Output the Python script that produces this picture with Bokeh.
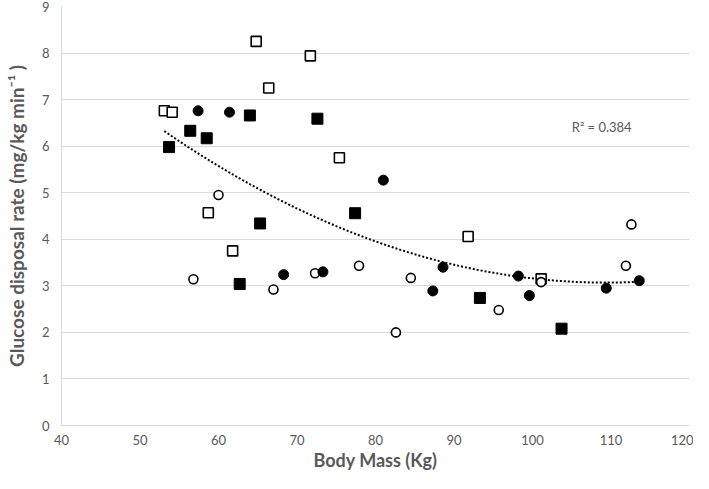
import numpy as np
from bokeh.plotting import figure
from bokeh.models import Range1d, FixedTicker, Label
from bokeh.embed import file_html
from bokeh.resources import INLINE

# Open squares
osq_x = [53.1, 54.1, 64.8, 71.7, 66.4, 75.4, 58.7, 61.8, 91.8, 101.1]
osq_y = [6.76, 6.73, 8.25, 7.94, 7.25, 5.75, 4.57, 3.75, 4.06, 3.15]
# Filled squares
fsq_x = [64.0, 72.6, 56.4, 58.5, 53.7, 65.3, 77.4, 62.7, 93.3, 103.7]
fsq_y = [6.66, 6.59, 6.33, 6.17, 5.98, 4.34, 4.56, 3.04, 2.74, 2.08]
# Open circles
oci_x = [60.0, 56.8, 67.0, 72.3, 77.9, 84.5, 82.6, 95.7, 101.1, 111.9, 112.6]
oci_y = [4.95, 3.14, 2.92, 3.27, 3.43, 3.17, 2.00, 2.48, 3.08, 3.43, 4.32]
# Filled circles
fci_x = [57.4, 61.4, 81.0, 68.3, 73.3, 88.6, 87.3, 98.2, 99.6, 109.4, 113.6]
fci_y = [6.76, 6.73, 5.27, 3.24, 3.30, 3.40, 2.89, 3.21, 2.79, 2.95, 3.11]

x_ticks = [40, 50, 60, 70, 80, 90, 100, 110, 120]
y_ticks = [0, 1, 2, 3, 4, 5, 6, 7, 8, 9]
r2_text = "R² = 0.384"

FONT = "Lato"
GREY = "#595959"

p = figure(width=693, height=473, output_backend="svg", toolbar_location=None,
           x_range=Range1d(40, 120), y_range=Range1d(0, 9),
           min_border_left=61, min_border_right=4, min_border_top=6, min_border_bottom=47)
p.outline_line_color = None
p.background_fill_color = "white"
p.border_fill_color = "white"

p.xgrid.grid_line_color = None
p.ygrid.grid_line_color = "#d9d9d9"
p.ygrid.grid_line_width = 1

p.xaxis.ticker = FixedTicker(ticks=x_ticks)
p.yaxis.ticker = FixedTicker(ticks=y_ticks)
for ax in (p.xaxis[0], p.yaxis[0]):
    ax.axis_line_color = "#d9d9d9"
    ax.major_tick_line_color = None
    ax.minor_tick_line_color = None
    ax.major_tick_out = 0
    ax.major_tick_in = 0
    ax.minor_tick_out = 0
    ax.minor_tick_in = 0
    ax.major_label_text_font = FONT
    ax.major_label_text_font_size = "13px"
    ax.major_label_text_color = GREY
    ax.axis_label_text_font = FONT
    ax.axis_label_text_font_style = "bold"
    ax.axis_label_text_color = GREY
p.xaxis.axis_label_text_font_size = "18px"
p.yaxis.axis_label_text_font_size = "19px"
p.xaxis.major_label_standoff = 9
p.yaxis.major_label_standoff = 12
p.xaxis.axis_label = "Body Mass (Kg)"
p.yaxis.axis_label = "Glucose disposal rate (mg/kg min⁻¹ )"
p.xaxis.axis_label_standoff = 1
p.yaxis.axis_label_standoff = 11

# Quadratic trendline fitted to all points
all_x = np.array(osq_x + fsq_x + oci_x + fci_x)
all_y = np.array(osq_y + fsq_y + oci_y + fci_y)
coef = np.polyfit(all_x, all_y, 2)
tx = np.linspace(all_x.min(), all_x.max(), 200)
ty = np.polyval(coef, tx)
p.line(tx, ty, line_color="black", line_width=2, line_dash="2 2")

p.scatter(osq_x, osq_y, marker="square", size=10, fill_color="white", line_color="black", line_width=1.6)
p.scatter(fsq_x, fsq_y, marker="square", size=11, fill_color="black", line_color="black")
p.scatter(oci_x, oci_y, marker="circle", size=9, fill_color="white", line_color="black", line_width=1.6)
p.scatter(fci_x, fci_y, marker="circle", size=10, fill_color="black", line_color="black")

p.add_layout(Label(x=105.0, y=6.42, text=r2_text, text_font=FONT, text_font_size="13px",
                   text_color=GREY, text_baseline="middle", text_align="left"))

open("out.html", "w").write(file_html(p, INLINE))
